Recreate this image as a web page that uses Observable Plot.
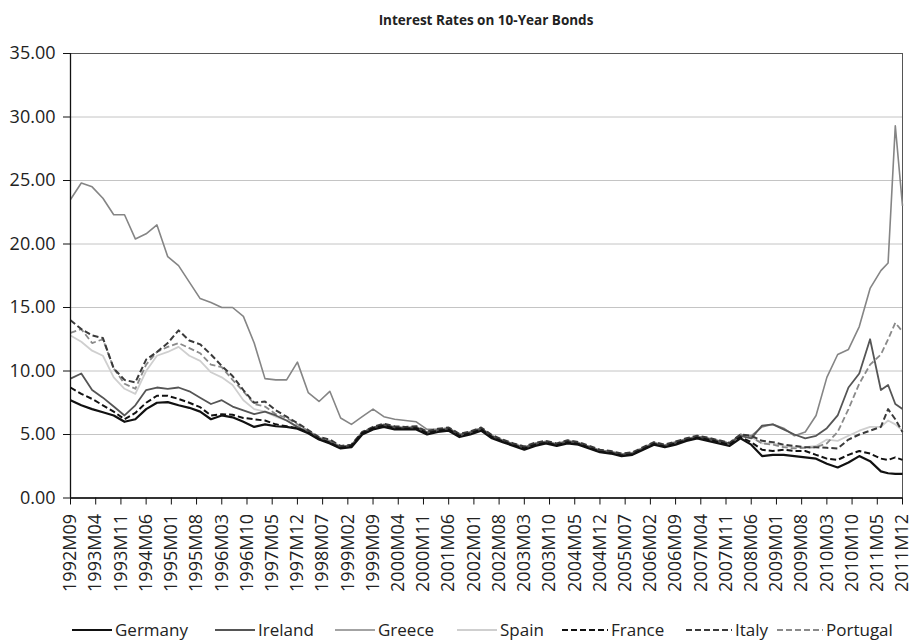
<!DOCTYPE html>
<html><head><meta charset="utf-8">
<script src="https://cdn.jsdelivr.net/npm/d3@7"></script>
<script src="https://cdn.jsdelivr.net/npm/@observablehq/plot@0.6"></script>
<style>
body{margin:0;background:#fff;font-family:"Open Sans",sans-serif;}
#title{height:38px;line-height:40px;padding-left:70px;padding-right:13px;text-align:center;font-weight:bold;font-size:13.5px;color:#222;}
#chart svg{display:block;}
#legend{position:relative;height:46px;}
.item{position:absolute;top:22px;height:20px;line-height:20px;font-size:17px;color:#222;white-space:nowrap;display:flex;align-items:center;}
.item svg{display:block;margin-right:3px;}
</style></head><body>
<div id="title">Interest Rates on 10-Year Bonds</div>
<div id="chart"></div>
<div id="legend"></div>
<script>
// ---------- DATA ----------
const months = [
"1992M09","1992M12",
"1993M03","1993M06","1993M09","1993M12",
"1994M03","1994M06","1994M09","1994M12",
"1995M03","1995M06","1995M09","1995M12",
"1996M03","1996M06","1996M09","1996M12",
"1997M03","1997M06","1997M09","1997M12",
"1998M03","1998M06","1998M09","1998M12",
"1999M03","1999M06","1999M09","1999M12",
"2000M03","2000M06","2000M09","2000M12",
"2001M03","2001M06","2001M09","2001M12",
"2002M03","2002M06","2002M09","2002M12",
"2003M03","2003M06","2003M09","2003M12",
"2004M03","2004M06","2004M09","2004M12",
"2005M03","2005M06","2005M09","2005M12",
"2006M03","2006M06","2006M09","2006M12",
"2007M03","2007M06","2007M09","2007M12",
"2008M03","2008M06","2008M09","2008M12",
"2009M03","2009M06","2009M09","2009M12",
"2010M03","2010M06","2010M09","2010M12",
"2011M03","2011M06","2011M08","2011M10","2011M12"
];

const germany = [
7.7,7.3,7.0,6.75,6.5,6.0,6.2,7.0,7.5,7.55,
7.3,7.1,6.8,6.2,6.5,6.35,6.0,5.6,5.8,5.65,
5.6,5.45,5.1,4.6,4.3,3.9,4.0,5.0,5.4,5.6,
5.4,5.4,5.4,5.0,5.2,5.3,4.8,5.0,5.3,4.7,
4.4,4.1,3.8,4.1,4.3,4.1,4.3,4.2,3.9,3.6,
3.5,3.3,3.4,3.8,4.2,4.0,4.2,4.5,4.7,4.5,
4.3,4.1,4.7,4.2,3.3,3.4,3.4,3.3,3.2,3.1,
2.7,2.4,2.8,3.3,2.9,2.1,1.95,1.9,1.9];

const ireland = [
9.4,9.8,8.5,7.9,7.2,6.5,7.3,8.5,8.7,8.6,
8.7,8.4,7.9,7.4,7.7,7.2,6.9,6.6,6.8,6.5,
6.1,5.6,5.2,4.7,4.4,4.0,4.15,5.15,5.55,5.75,
5.55,5.5,5.55,5.15,5.35,5.45,4.95,5.15,5.45,4.85,
4.5,4.2,3.95,4.25,4.4,4.2,4.45,4.3,4.0,3.7,
3.6,3.4,3.5,3.9,4.3,4.1,4.35,4.6,4.8,4.65,
4.45,4.3,4.9,4.7,5.7,5.8,5.4,5.0,4.7,4.9,
5.5,6.5,8.7,9.8,12.5,8.5,8.9,7.4,7.0];

const greece = [
23.5,24.8,24.5,23.6,22.3,22.3,20.4,20.8,21.5,19.0,
18.3,17.0,15.7,15.4,15.0,15.0,14.3,12.2,9.4,9.3,
9.3,10.7,8.3,7.6,8.4,6.3,5.8,6.4,7.0,6.4,
6.2,6.1,6.0,5.4,5.4,5.5,5.0,5.2,5.5,4.9,
4.55,4.25,4.0,4.3,4.45,4.25,4.5,4.35,4.05,3.75,
3.65,3.45,3.55,3.95,4.35,4.15,4.4,4.65,4.85,4.7,
4.5,4.3,5.0,4.9,5.6,5.8,5.5,4.9,5.2,6.5,
9.5,11.3,11.7,13.5,16.5,17.9,18.5,29.3,23.0];

const spain = [
12.8,12.3,11.6,11.2,9.5,8.6,8.2,10.0,11.2,11.5,
11.9,11.2,10.8,9.9,9.5,8.9,7.7,7.0,6.8,6.4,
6.1,5.6,5.2,4.7,4.45,4.0,4.1,5.1,5.5,5.7,
5.5,5.5,5.55,5.15,5.35,5.45,4.95,5.15,5.45,4.85,
4.5,4.2,3.95,4.25,4.4,4.2,4.45,4.3,4.0,3.7,
3.6,3.4,3.5,3.9,4.3,4.1,4.35,4.6,4.8,4.65,
4.45,4.25,4.9,4.8,4.3,4.3,4.1,4.0,4.0,4.1,
4.6,4.5,4.9,5.3,5.6,5.6,6.1,5.8,5.3];

const france = [
8.7,8.2,7.8,7.3,6.8,6.2,6.7,7.5,8.05,8.05,
7.8,7.5,7.15,6.5,6.6,6.55,6.3,6.2,6.1,5.8,
5.65,5.5,5.15,4.65,4.35,3.95,4.1,5.1,5.5,5.7,
5.5,5.45,5.5,5.1,5.3,5.4,4.9,5.1,5.4,4.8,
4.45,4.15,3.9,4.2,4.35,4.15,4.4,4.25,3.95,3.65,
3.55,3.35,3.45,3.85,4.25,4.05,4.3,4.55,4.75,4.6,
4.4,4.2,4.8,4.4,3.8,3.7,3.8,3.7,3.7,3.4,
3.1,3.0,3.4,3.7,3.5,3.1,3.0,3.2,3.0];

const italy = [
14.0,13.3,12.8,12.6,10.2,9.3,9.1,10.9,11.5,12.2,
13.2,12.4,12.1,11.3,10.4,9.6,8.5,7.5,7.6,6.9,
6.4,5.9,5.35,4.8,4.6,4.1,4.2,5.2,5.6,5.85,
5.65,5.6,5.65,5.25,5.45,5.55,5.05,5.25,5.55,4.95,
4.6,4.3,4.05,4.35,4.5,4.3,4.55,4.4,4.1,3.8,
3.7,3.5,3.6,4.0,4.4,4.2,4.45,4.7,4.9,4.75,
4.55,4.35,5.0,4.9,4.5,4.4,4.2,4.1,4.0,4.0,
3.95,3.9,4.6,5.0,5.3,5.6,7.0,6.2,5.2];

const portugal = [
13.0,13.3,12.2,12.5,10.2,9.0,8.6,10.5,11.5,11.9,
12.2,11.8,11.4,10.5,10.3,9.3,8.4,7.4,7.2,6.6,
6.3,5.8,5.3,4.75,4.5,4.05,4.15,5.15,5.55,5.8,
5.6,5.55,5.6,5.2,5.4,5.5,5.0,5.2,5.5,4.9,
4.55,4.25,4.0,4.3,4.45,4.25,4.5,4.35,4.05,3.75,
3.65,3.45,3.55,3.95,4.35,4.15,4.4,4.65,4.85,4.7,
4.5,4.3,5.0,4.8,4.3,4.2,4.0,3.9,3.95,4.0,
4.3,5.2,7.0,9.0,10.5,11.3,12.5,13.8,13.1];

const countries = ["Germany","Ireland","Greece","Spain","France","Italy","Portugal"];
const seriesValues = [germany, ireland, greece, spain, france, italy, portugal];

const tickLabels = ["1992M09","1993M04","1993M11","1994M06","1995M01","1995M08","1996M03","1996M10",
"1997M05","1997M12","1998M07","1999M02","1999M09","2000M04","2000M11","2001M06","2002M01","2002M08",
"2003M03","2003M10","2004M05","2004M12","2005M07","2006M02","2006M09","2007M04","2007M11","2008M06",
"2009M01","2009M08","2010M03","2010M10","2011M05","2011M12"];
const yTicks = [0,5,10,15,20,25,30,35];

// ---------- STYLES ----------
const styles = {
  Germany:  {stroke:"#111111", width:2.2, dash:null},
  Ireland:  {stroke:"#555555", width:1.8, dash:null},
  Greece:   {stroke:"#858585", width:1.6, dash:null},
  Spain:    {stroke:"#cfcfcf", width:1.8, dash:null},
  France:   {stroke:"#111111", width:2.0, dash:"6,3"},
  Italy:    {stroke:"#3a3a3a", width:2.0, dash:"6,3"},
  Portugal: {stroke:"#8a8a8a", width:1.8, dash:"6,3"}
};
const drawOrder = ["Spain","Greece","Portugal","Ireland","Italy","France","Germany"];
const legendX = {Germany:72, Ireland:215, Greece:335, Spain:457, France:562, Italy:686, Portugal:777};

// ---------- BUILD ----------
const idx = s => (+s.slice(0,4) - 1992) * 12 + (+s.slice(5) - 9);
const rows = [];
countries.forEach((c, i) => months.forEach((m, j) => rows.push({country: c, t: idx(m), v: seriesValues[i][j]})));
const tickIdx = tickLabels.map(idx);
const labelOf = new Map(tickLabels.map(l => [idx(l), l]));

const FONT = "'Open Sans', sans-serif";
const chart = Plot.plot({
  width: 915, height: 560,
  marginTop: 15, marginLeft: 70, marginRight: 13, marginBottom: 100.5,
  style: {fontFamily: FONT, fontSize: "18px", color: "#222", background: "#fff", overflow: "visible"},
  x: {domain: [0, 231], label: null},
  y: {domain: [0, 35], label: null},
  marks: [
    Plot.gridY(yTicks, {stroke: "#c4c4c4", strokeOpacity: 1, strokeWidth: 1}),
    Plot.frame({stroke: "#555", strokeWidth: 1}),
    ...drawOrder.map(c => Plot.line(rows.filter(r => r.country === c), {
      x: "t", y: "v", stroke: styles[c].stroke, strokeWidth: styles[c].width,
      strokeDasharray: styles[c].dash, strokeLinejoin: "round", strokeLinecap: "butt"
    })),
    Plot.ruleX([0], {stroke: "#111", strokeWidth: 1.3}),
    Plot.ruleY([0], {stroke: "#111", strokeWidth: 1.3}),
    Plot.axisY({ticks: yTicks, tickFormat: d => d.toFixed(2), tickSize: 7, tickPadding: 8, fontSize: 18, stroke: "#111"}),
    Plot.axisX({ticks: tickIdx, tickFormat: d => labelOf.get(d), tickRotate: -90, tickSize: 7, tickPadding: 9, fontSize: 18, stroke: "#111"})
  ]
});
document.getElementById("chart").appendChild(chart);

// ---------- LEGEND ----------
const legend = document.getElementById("legend");
countries.forEach(c => {
  const s = styles[c];
  const div = document.createElement("div");
  div.className = "item";
  div.style.left = legendX[c] + "px";
  const w = s.dash ? 46 : 40;
  div.innerHTML = `<svg width="${w}" height="10"><line x1="0" y1="5" x2="${w}" y2="5" stroke="${s.stroke}" stroke-width="${s.width}" ${s.dash ? `stroke-dasharray="${s.dash}"` : ""}/></svg><span>${c}</span>`;
  legend.appendChild(div);
});
</script>
</body></html>
